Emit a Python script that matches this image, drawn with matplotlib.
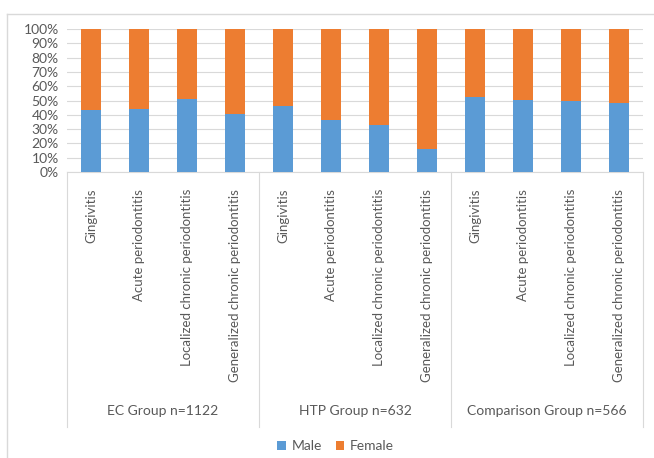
import numpy as np
import matplotlib
matplotlib.use("Agg")
import matplotlib.pyplot as plt
from matplotlib.lines import Line2D
from matplotlib.ticker import PercentFormatter

plt.rcParams["font.family"] = ["Lato", "DejaVu Sans"]

# ---- datos ----
groups = ["EC Group n=1122", "HTP Group n=632", "Comparison Group n=566"]
diagnoses = ["Gingivitis", "Acute periodontitis",
             "Localized chronic periodontitis", "Generalized chronic periodontitis"]
male = [43.5, 44.3, 51.3, 40.3,
        46.2, 36.1, 32.9, 16.1,
        52.2, 50.3, 49.9, 48.0]
female = [100 - m for m in male]

BLUE = "#5b9bd5"
ORANGE = "#ed7d31"
GRID = "#d9d9d9"
TXT = "#595959"

fig = plt.figure(figsize=(6.54, 4.58), dpi=100)
W, H = 654, 458
ax = fig.add_axes([67 / W, 1 - 172 / H, (643 - 67) / W, (172 - 29) / H])

x = np.arange(len(male))
ax.bar(x, male, width=0.4, color=BLUE, label="Male", zorder=3)
ax.bar(x, female, width=0.4, bottom=male, color=ORANGE, label="Female", zorder=3)

ax.set_xlim(-0.5, len(male) - 0.5)
ax.set_ylim(0, 100)
ax.set_yticks(np.arange(0, 101, 10))
ax.yaxis.set_major_formatter(PercentFormatter(decimals=0))
ax.grid(axis="y", color=GRID, lw=0.8, zorder=0)
for s in ax.spines.values():
    s.set_visible(False)
ax.tick_params(axis="y", length=0, labelsize=10, colors=TXT, pad=6)

ax.set_xticks(x)
ax.set_xticklabels(diagnoses * len(groups), rotation=90, va="top", ha="center")
ax.tick_params(axis="x", length=0, labelsize=9.5, colors=TXT, pad=12)

# eje de categorias con separadores de grupo
tr = ax.get_xaxis_transform()
ax.plot([-0.5, len(male) - 0.5], [0, 0], color=GRID, lw=0.8, transform=tr, clip_on=False)
y_bot = -(427 - 172) / (172 - 29)
for b in np.arange(-0.5, len(male), 4):
    ax.plot([b, b], [0, y_bot], color=GRID, lw=0.8, transform=tr, clip_on=False)
y_grp = -(411 - 172) / (172 - 29)
for i, g in enumerate(groups):
    ax.text(i * 4 + 1.5, y_grp, g, transform=tr, ha="center", va="center",
            fontsize=10, color=TXT)

fig.legend(loc="center", bbox_to_anchor=(0.513, 1 - 446 / H), ncol=2, frameon=False,
           fontsize=10, handlelength=0.6, handleheight=0.6, handletextpad=0.4,
           columnspacing=1.0, labelcolor=TXT)

# marco del grafico
fig.add_artist(Line2D([7 / W, 7 / W], [1 - 14 / H, 0], color=GRID, lw=1))
fig.add_artist(Line2D([7 / W, 1], [1 - 14 / H, 1 - 14 / H], color=GRID, lw=1))

fig.savefig("out.png", dpi=100)
